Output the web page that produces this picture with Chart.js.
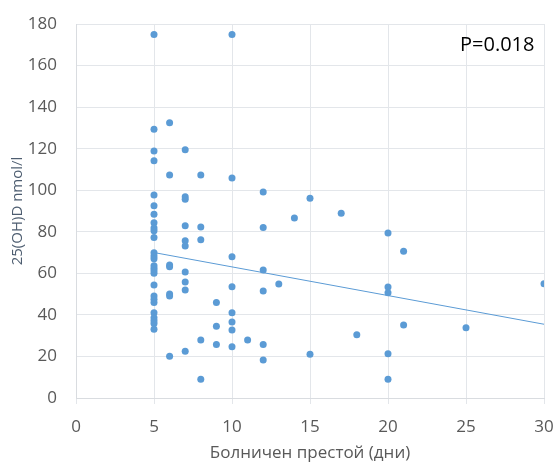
<!DOCTYPE html>
<html>
<head>
<meta charset="utf-8">
<script src="https://cdn.jsdelivr.net/npm/chart.js@4/dist/chart.umd.min.js"></script>
<style>
  html, body { margin: 0; padding: 0; background: #fff; }
  #wrap { width: 557px; height: 463px; }
</style>
</head>
<body>
<div id="wrap"><canvas id="chart" width="557" height="463"></canvas></div>
<script>
// days of sick leave (x) and 25(OH)D nmol/l (y)
const sickDays = [
  5, 5, 5, 5, 5, 5, 5, 5, 5, 5, 5, 5, 5, 5, 5, 5, 5, 5, 5, 5, 5, 5, 5, 5, 5, 5, 5,
  6, 6, 6, 6, 6, 6, 6,
  7, 7, 7, 7, 7, 7, 7, 7, 7, 7,
  8, 8, 8, 8, 8,
  9, 9, 9,
  10, 10, 10, 10, 10, 10, 10, 10,
  11,
  12, 12, 12, 12, 12, 12,
  13, 14, 15, 15, 17, 18,
  20, 20, 20, 20, 20,
  21, 21, 25, 30
];
const vitaminD = [
  175, 129.3, 118.9, 114.2, 97.7, 92.5, 88.4, 84.4, 81.8, 80.5, 77.3, 69.9, 68.3, 67, 63.7, 62.4, 61.3, 60, 54.4, 49.1, 47.5, 46, 41, 38.6, 37.2, 35.9, 33.1,
  132.5, 107.3, 64, 63.2, 50, 49.1, 20.1,
  119.5, 96.9, 95.6, 82.9, 75.7, 73.1, 60.6, 55.8, 52, 22.5,
  107.3, 82.3, 76.2, 27.9, 9,
  46, 34.5, 25.8,
  175, 105.9, 68, 53.6, 41, 36.6, 32.7, 24.7,
  27.9,
  99.1, 82, 61.6, 51.5, 25.7, 18.3,
  54.9, 86.6, 96.1, 21, 88.9, 30.5,
  79.4, 53.4, 50.7, 21.3, 9,
  70.6, 35.1, 33.8, 55
];
// linear trendline ends as drawn in the picture
const trendX = [5, 30];
const trendY = [70, 35.5];
const pLabel = 'P=0.018';

const blue = '#5b9bd5';
const grey = '#595959';
const gridCol = '#e3e6ea';

const points = sickDays.map((d, i) => ({ x: d, y: vitaminD[i] }));
const trend = trendX.map((d, i) => ({ x: d, y: trendY[i] }));

const pText = {
  id: 'pText',
  afterDraw(chart) {
    const ctx = chart.ctx;
    ctx.save();
    ctx.font = '20px "Open Sans"';
    ctx.fillStyle = '#000';
    ctx.textAlign = 'left';
    ctx.textBaseline = 'middle';
    ctx.fillText(pLabel, 460, 45);
    ctx.restore();
  }
};

new Chart(document.getElementById('chart'), {
  type: 'scatter',
  data: {
    datasets: [
      {
        label: 'data',
        data: points,
        backgroundColor: blue,
        borderColor: blue,
        pointRadius: 3.5,
        pointBorderWidth: 0
      },
      {
        type: 'line',
        label: 'trend',
        data: trend,
        borderColor: blue,
        borderWidth: 1,
        pointRadius: 0,
        fill: false
      }
    ]
  },
  plugins: [pText],
  options: {
    responsive: false,
    animation: false,
    layout: { padding: { left: 0, right: 13, top: 24, bottom: 0 } },
    plugins: {
      legend: { display: false },
      tooltip: { enabled: false }
    },
    scales: {
      x: {
        type: 'linear',
        min: 0,
        max: 30,
        // fixed box, no extra label padding so the plot area matches the picture
        afterFit(scale) {
          scale.height = 65;
          scale.paddingLeft = 0;
          scale.paddingRight = 0;
        },
        ticks: { stepSize: 5, color: grey, padding: 13, font: { family: 'Open Sans', size: 17 } },
        grid: { color: gridCol, tickLength: 6, drawTicks: true },
        border: { color: '#d9dce0' },
        title: {
          display: true,
          text: 'Болничен престой (дни)',
          color: grey,
          padding: { top: 0, bottom: 0 },
          font: { family: 'Open Sans', size: 17 }
        }
      },
      y: {
        min: 0,
        max: 180,
        afterFit(scale) {
          scale.width = 76;
          scale.paddingTop = 0;
          scale.paddingBottom = 0;
        },
        ticks: { stepSize: 20, color: grey, padding: 19, font: { family: 'Open Sans', size: 17 } },
        grid: { color: gridCol, drawTicks: false },
        border: { color: '#d9dce0' },
        title: {
          display: true,
          text: '25(OH)D nmol/l',
          color: '#4d5d70',
          padding: { top: 9, bottom: 0 },
          font: { family: 'Open Sans', size: 15 }
        }
      }
    }
  }
});
</script>
</body>
</html>
